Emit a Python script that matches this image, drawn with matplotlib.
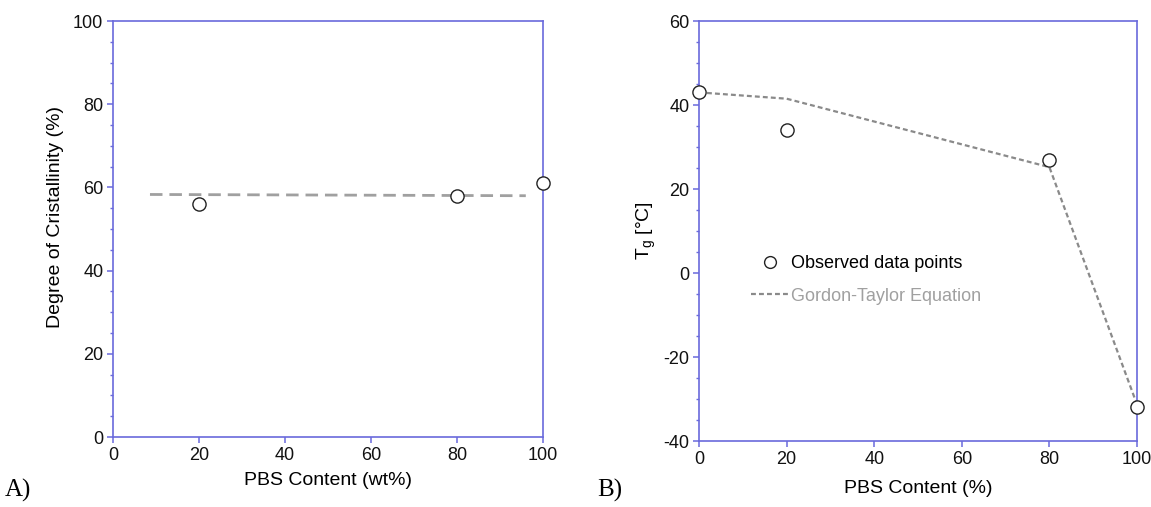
import matplotlib
matplotlib.use("Agg")
import matplotlib.pyplot as plt
from matplotlib.ticker import MultipleLocator

plt.rcParams['font.family'] = ['Liberation Sans', 'DejaVu Sans']
plt.rcParams['axes.unicode_minus'] = False

# Panel A data
a_x = [20, 80, 100]
a_y = [56, 58, 61]
a_fit_x = [8.6, 96]
a_fit_y = [58.3, 58.0]

# Panel B data
b_x = [0, 20, 80, 100]
b_y = [43, 34, 27, -32]
b_gt_x = [0, 20, 80, 100]
b_gt_y = [43, 41.5, 25.2, -31.3]

a_xticks = [0, 20, 40, 60, 80, 100]
a_yticks = [0, 20, 40, 60, 80, 100]
b_xticks = [0, 20, 40, 60, 80, 100]
b_yticks = [-40, -20, 0, 20, 40, 60]

spine_c = '#6a6adc'
fs_tick = 13
fs_lab = 14

fig = plt.figure(figsize=(11.51, 5.07), dpi=100)
axA = fig.add_axes([113/1151, 1-437/507, 430/1151, 416/507])
axB = fig.add_axes([699/1151, 1-441/507, 438/1151, 420/507])

def style(ax):
    for s in ax.spines.values():
        s.set_color(spine_c)
        s.set_linewidth(1.2)
    ax.tick_params(which='major', direction='out', length=4, width=1.1, color=spine_c,
                   labelsize=fs_tick, labelcolor='#111111', pad=3)
    ax.tick_params(which='minor', direction='out', length=2, width=1.0, color=spine_c)
    ax.tick_params(axis='x', which='minor', bottom=False)

axA.plot(a_fit_x, a_fit_y, color='#a0a0a0', lw=2, dashes=(4.5, 2.5))
axA.plot(a_x, a_y, 'o', ms=9.5, mfc='white', mec='#222222', mew=1.0, clip_on=False, zorder=5)
axA.set_xlim(0, 100)
axA.set_ylim(0, 100)
axA.set_xticks(a_xticks)
axA.set_yticks(a_yticks)
axA.yaxis.set_minor_locator(MultipleLocator(5))
style(axA)
axA.set_xlabel('PBS Content (wt%)', fontsize=fs_lab, labelpad=6)
axA.set_ylabel('Degree of Cristallinity (%)', fontsize=fs_lab, labelpad=12)
axA.yaxis.set_label_coords(-0.115, 0.53)

axB.plot(b_gt_x, b_gt_y, color='#8a8a8a', lw=1.6, dashes=(2.2, 1.4), label='Gordon-Taylor Equation')
axB.plot(b_x, b_y, 'o', ms=9.5, mfc='white', mec='#222222', mew=1.0, clip_on=False, zorder=5,
         label='Observed data points')
axB.set_xlim(0, 100)
axB.set_ylim(-40, 60)
axB.set_xticks(b_xticks)
axB.set_yticks(b_yticks)
axB.yaxis.set_minor_locator(MultipleLocator(5))
style(axB)
axB.set_xlabel('PBS Content (%)', fontsize=fs_lab, labelpad=9)
axB.set_ylabel(r'T$_\mathregular{g}$ [°C]', fontsize=fs_lab, labelpad=4)

h, l = axB.get_legend_handles_labels()
leg = fig.legend([h[1], h[0]], [l[1], l[0]], loc='center left',
                 bbox_to_anchor=(751/1151, 1-280/507), frameon=False, fontsize=13,
                 borderpad=0, borderaxespad=0, handlelength=2.1, handletextpad=0.1,
                 labelspacing=0.85)
leg.get_texts()[1].set_color('#a0a0a0')
leg.legend_handles[0].set_markersize(8.5)

fig.text(5/1151, 1-490/507, 'A)', family=['Liberation Serif', 'DejaVu Serif'], fontsize=18,
         va='center', ha='left')
fig.text(597/1151, 1-490/507, 'B)', family=['Liberation Serif', 'DejaVu Serif'], fontsize=18,
         va='center', ha='left')

fig.savefig('out.png', dpi=100)
